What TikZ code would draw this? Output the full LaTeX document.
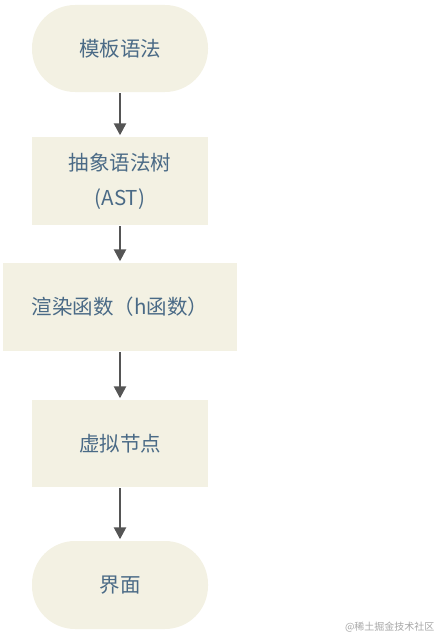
\documentclass[tikz,border=0pt]{standalone}
\usepackage{fontspec}
\newfontfamily\cjk{Noto Sans CJK SC}
\usetikzlibrary{arrows.meta}
\definecolor{boxfill}{HTML}{F3F1E3}
\definecolor{boxtext}{HTML}{4A6A86}
\definecolor{arrowgray}{HTML}{555555}

\begin{document}
\begin{tikzpicture}[x=1pt,y=-1pt,
    pill/.style={fill=boxfill,text=boxtext,minimum width=176pt,minimum height=87pt,rounded corners=43pt,font=\cjk\fontsize{20.5}{35}\selectfont,align=center},
    stepbox/.style={fill=boxfill,text=boxtext,minimum width=176pt,minimum height=88pt,font=\cjk\fontsize{20.5}{35}\selectfont,align=center},
    flow/.style={arrowgray,line width=2.5pt,-{Triangle[length=12pt,width=12pt]},shorten >=1.5pt,shorten <=1pt}]
          	\useasboundingbox (0,0) rectangle (441,634);
            \node[pill] (tpl) at (120,48.5) {模板语法};
            \node[stepbox] (ast) at (120,181) {抽象语法树\\(AST)};
            \node[stepbox,minimum width=234pt] (render) at (120,307) {渲染函数（h函数）};
            \node[stepbox,minimum height=87pt] (vnode) at (120,443.5) {虚拟节点};
            \node[pill,minimum height=88pt] (ui) at (120,585) {界面};
            \draw[flow] (tpl) -- (ast);
            \draw[flow] (ast) -- (render);
            \draw[flow] (render) -- (vnode);
            \draw[flow] (vnode) -- (ui);
            \node[gray!70,font=\cjk\fontsize{10}{12}\selectfont,anchor=east] (mark) at (438,627) {@稀土掘金技术社区};
      \end{tikzpicture}
\end{document}
